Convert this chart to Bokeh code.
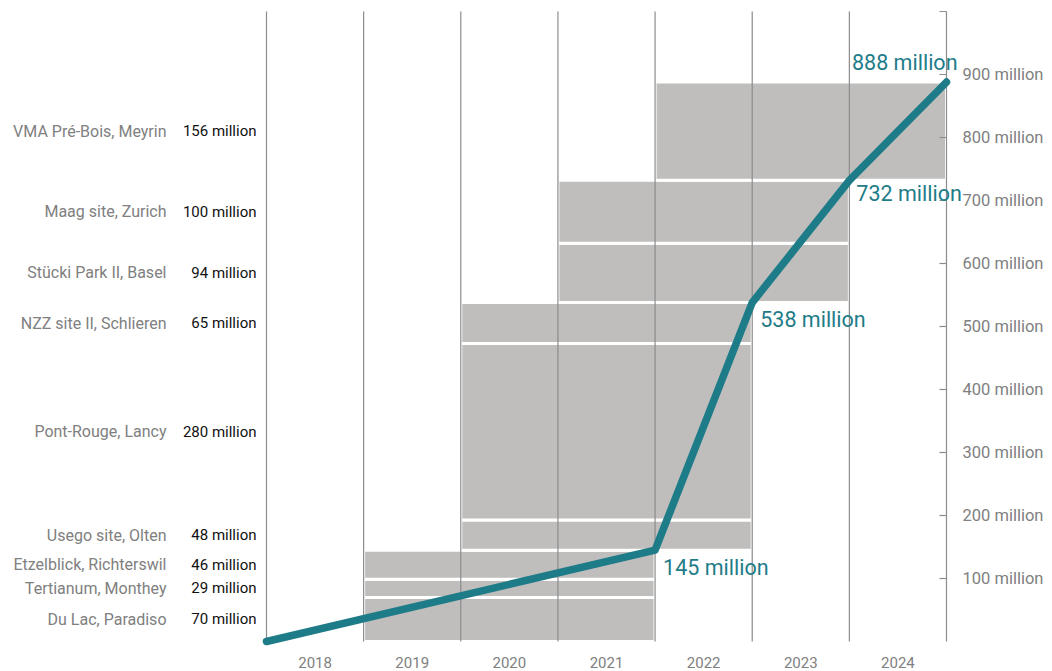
from bokeh.plotting import figure
from bokeh.models import Range1d, ColumnDataSource
from bokeh.core.properties import value
from bokeh.embed import file_html
from bokeh.resources import INLINE

projects = ["Du Lac, Paradiso", "Tertianum, Monthey", "Etzelblick, Richterswil",
            "Usego site, Olten", "Pont-Rouge, Lancy", "NZZ site II, Schlieren",
            "Stücki Park II, Basel", "Maag site, Zurich", "VMA Pré-Bois, Meyrin"]
values = [70, 29, 46, 48, 280, 65, 94, 100, 156]
start_year = [2019, 2019, 2019, 2020, 2020, 2020, 2021, 2021, 2022]
span_years = [3, 3, 3, 3, 3, 3, 3, 3, 3]

line_x = [2018, 2022, 2023, 2024, 2025]
line_y = [0, 145, 538, 732, 888]

years = [2018, 2019, 2020, 2021, 2022, 2023, 2024]
y_ticks = [100, 200, 300, 400, 500, 600, 700, 800, 900, 1000]
y_tick_labels = ["100 million", "200 million", "300 million", "400 million", "500 million",
                 "600 million", "700 million", "800 million", "900 million", ""]

FONT = value("Roboto")
TEAL = "#1e7c88"
GRAY_BAR = "#bfbebd"
GRAY_TXT = "#808080"
GRID = "#8c8c8c"

W, H = 1052, 671
# plot region (pixels) inside canvas
PX_L, PX_R, PX_T, PX_B = 266, 946, 11, 641
x0, x1 = years[0], years[-1] + 1
y0, y1 = 0, y_ticks[-1]
sx = (PX_R - PX_L) / (x1 - x0)
sy = (PX_B - PX_T) / (y1 - y0)

bottoms, tops = [], []
acc = 0
for v in values:
    bottoms.append(acc)
    acc += v
    tops.append(acc)
mids = [(b + t) / 2 for b, t in zip(bottoms, tops)]

p = figure(width=W, height=H, output_backend="svg", toolbar_location=None,
           x_range=Range1d(x0 - PX_L / sx, x1 + (W - PX_R) / sx),
           y_range=Range1d(y0 - (H - PX_B) / sy, y1 + PX_T / sy),
           x_axis_location=None, y_axis_location=None,
           min_border=0, min_border_left=0, min_border_right=0,
           min_border_top=0, min_border_bottom=0)
p.outline_line_color = None
p.xgrid.visible = False
p.ygrid.visible = False
p.background_fill_color = "white"
p.border_fill_color = "white"

# bars
bars = ColumnDataSource(dict(left=start_year,
                             right=[s + d for s, d in zip(start_year, span_years)],
                             bottom=bottoms, top=tops))
p.quad(left="left", right="right", bottom="bottom", top="top", source=bars,
       fill_color=GRAY_BAR, line_color="white", line_width=3)

# vertical year lines + right axis line
gx = years + [x1]
p.segment(x0=gx, y0=[y0] * len(gx), x1=gx, y1=[y1] * len(gx),
          line_color=GRID, line_width=1.2)

# right axis ticks (pointing inward, 7 px)
tick_len = 7 / sx
p.segment(x0=[x1 - tick_len] * len(y_ticks), y0=y_ticks, x1=[x1] * len(y_ticks), y1=y_ticks,
          line_color=GRID, line_width=1.2)
p.text(x=[x1] * len(y_ticks), y=y_ticks, text=y_tick_labels, x_offset=16,
       text_align="left", text_baseline="middle",
       text_font=FONT, text_font_size="16.5px", text_color=GRAY_TXT)

# year labels
p.text(x=[y + 0.5 for y in years], y=[y0] * len(years), text=[str(y) for y in years],
       y_offset=21, text_align="center", text_baseline="middle",
       text_font=FONT, text_font_size="15px", text_color=GRAY_TXT)

# cumulative line
p.line(line_x, line_y, line_color=TEAL, line_width=7.5, line_cap="round", line_join="round")

# left labels
p.text(x=[x0] * len(projects), y=mids, text=projects, x_offset=-100,
       text_align="right", text_baseline="middle",
       text_font=FONT, text_font_size="16px", text_color=GRAY_TXT)
p.text(x=[x0] * len(projects), y=mids, text=[f"{v} million" for v in values], x_offset=-10,
       text_align="right", text_baseline="middle",
       text_font=FONT, text_font_size="15px", text_color="#111111")

# cumulative value labels
vl = ColumnDataSource(dict(x=line_x[1:], y=line_y[1:],
                           t=[f"{v} million" for v in line_y[1:]],
                           xo=[8, 8, 7, 11], yo=[17, 17, 13, -20],
                           al=["left", "left", "left", "right"]))
p.text(x="x", y="y", text="t", source=vl, x_offset="xo", y_offset="yo",
       text_align="al", text_baseline="middle",
       text_font=FONT, text_font_size="21.5px", text_color=TEAL)

open("out.html", "w").write(file_html(p, INLINE))
